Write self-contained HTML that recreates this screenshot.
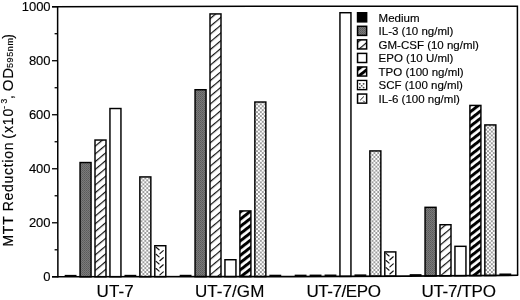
<!DOCTYPE html>
<html><head><meta charset="utf-8"><title>MTT Reduction</title>
<style>
html,body{margin:0;padding:0;background:#fff;}
body{width:520px;height:300px;overflow:hidden;}
svg{display:block;}
text{font-family:"Liberation Sans", Arial, Helvetica, sans-serif;fill:#000;stroke:#000;stroke-width:0.15px;}
</style></head><body>
<svg width="520" height="300" viewBox="0 0 520 300">
<defs>
 <pattern id="il3" width="2" height="2" patternUnits="userSpaceOnUse">
  <rect width="2" height="2" fill="#7a7a7a"/><rect width="1" height="1" fill="#5a5a5a"/><rect x="1" y="1" width="1" height="1" fill="#646464"/>
 </pattern>
 <pattern id="gm" width="5.95" height="6" patternUnits="userSpaceOnUse" patternTransform="rotate(50)">
  <rect width="5.95" height="6" fill="#fff"/><rect x="0" width="1.2" height="6" fill="#111"/>
 </pattern>
 <pattern id="tpo" width="5.7" height="6" patternUnits="userSpaceOnUse" patternTransform="rotate(52)">
  <rect width="5.7" height="6" fill="#fff"/><rect x="0" width="3.0" height="6" fill="#000"/>
 </pattern>
 <pattern id="scf" width="3.85" height="3.9" patternUnits="userSpaceOnUse">
  <rect width="3.85" height="3.9" fill="#fff"/>
  <ellipse cx="0.96" cy="0.98" rx="0.95" ry="0.75" fill="#444"/><ellipse cx="2.9" cy="2.93" rx="0.95" ry="0.75" fill="#444"/>
 </pattern>
</defs>

<rect x="64.67" y="274.88" width="11.85" height="2" fill="#000"/>
<rect x="80.05" y="162.53" width="11.00" height="114.25" fill="url(#il3)" stroke="#000" stroke-width="1.45"/>
<rect x="95.00" y="140.03" width="11.00" height="136.73" fill="url(#gm)" stroke="#000" stroke-width="1.45"/>
<rect x="109.95" y="108.52" width="11.00" height="168.22" fill="#fff" stroke="#000" stroke-width="1.45"/>
<rect x="124.47" y="274.83" width="11.85" height="2" fill="#000"/>
<rect x="139.85" y="176.92" width="11.00" height="99.80" fill="url(#scf)" stroke="#000" stroke-width="1.45"/>
<rect x="154.80" y="245.72" width="11.00" height="30.98" fill="#fff" stroke="#000" stroke-width="1.45"/>
<path d="M156.07 247.20L159.07 249.80M159.88 253.60L163.27 250.60M156.07 254.30L159.07 256.90M159.88 260.70L163.27 257.70M156.07 261.40L159.07 264.00M159.88 267.80L163.27 264.80M156.07 268.50L159.07 271.10M159.88 274.90L163.27 271.90" stroke="#111" stroke-width="1.15" fill="none" stroke-linecap="round"/>
<rect x="179.68" y="274.79" width="11.85" height="2" fill="#000"/>
<rect x="195.05" y="89.72" width="11.00" height="186.95" fill="url(#il3)" stroke="#000" stroke-width="1.45"/>
<rect x="210.00" y="13.92" width="11.00" height="262.74" fill="url(#gm)" stroke="#000" stroke-width="1.45"/>
<rect x="224.95" y="259.73" width="11.00" height="16.93" fill="#fff" stroke="#000" stroke-width="1.45"/>
<rect x="239.90" y="210.92" width="11.00" height="65.71" fill="url(#tpo)" stroke="#000" stroke-width="1.45"/>
<rect x="254.85" y="102.02" width="11.00" height="174.60" fill="url(#scf)" stroke="#000" stroke-width="1.45"/>
<rect x="269.38" y="274.71" width="11.85" height="2" fill="#000"/>
<rect x="294.68" y="274.65" width="11.85" height="2" fill="#000"/>
<rect x="309.62" y="274.59" width="11.85" height="2" fill="#000"/>
<rect x="324.57" y="274.53" width="11.85" height="2" fill="#000"/>
<rect x="339.95" y="12.72" width="11.00" height="263.64" fill="#fff" stroke="#000" stroke-width="1.45"/>
<rect x="354.48" y="274.40" width="11.85" height="2" fill="#000"/>
<rect x="369.85" y="150.92" width="11.00" height="125.31" fill="url(#scf)" stroke="#000" stroke-width="1.45"/>
<rect x="384.80" y="251.92" width="11.00" height="24.25" fill="#fff" stroke="#000" stroke-width="1.45"/>
<path d="M386.07 253.40L389.07 256.00M389.88 259.80L393.27 256.80M386.07 260.50L389.07 263.10M389.88 266.90L393.27 263.90M386.07 267.60L389.07 270.20M389.88 274.00L393.27 271.00" stroke="#111" stroke-width="1.15" fill="none" stroke-linecap="round"/>
<rect x="409.68" y="274.14" width="11.85" height="2" fill="#000"/>
<rect x="425.05" y="207.32" width="11.00" height="68.61" fill="url(#il3)" stroke="#000" stroke-width="1.45"/>
<rect x="440.00" y="224.72" width="11.00" height="51.10" fill="url(#gm)" stroke="#000" stroke-width="1.45"/>
<rect x="454.95" y="246.32" width="11.00" height="29.39" fill="#fff" stroke="#000" stroke-width="1.45"/>
<rect x="469.90" y="105.42" width="11.00" height="170.18" fill="url(#tpo)" stroke="#000" stroke-width="1.45"/>
<rect x="484.85" y="124.92" width="11.00" height="150.58" fill="url(#scf)" stroke="#000" stroke-width="1.45"/>
<rect x="499.38" y="273.49" width="11.85" height="2" fill="#000"/>
<path d="M52 6.7 L290 6.2 L517.4 6.2 L517.6 275.3" stroke="#000" stroke-width="1.5" fill="none"/>
<path d="M52 276.8 L290 276.6 L407 276.1 L518.2 275.3" stroke="#000" stroke-width="1.6" fill="none"/>
<path d="M57.6 6 L57.9 277.5" stroke="#000" stroke-width="1.5" fill="none"/>
<line x1="52" y1="276.80" x2="57.6" y2="276.80" stroke="#000" stroke-width="1.3"/>
<text x="50.6" y="280.80" font-size="13" text-anchor="end">0</text>
<line x1="52" y1="222.78" x2="57.6" y2="222.78" stroke="#000" stroke-width="1.3"/>
<text x="50.6" y="226.78" font-size="13" text-anchor="end">200</text>
<line x1="52" y1="168.76" x2="57.6" y2="168.76" stroke="#000" stroke-width="1.3"/>
<text x="50.6" y="172.76" font-size="13" text-anchor="end">400</text>
<line x1="52" y1="114.74" x2="57.6" y2="114.74" stroke="#000" stroke-width="1.3"/>
<text x="50.6" y="118.74" font-size="13" text-anchor="end">600</text>
<line x1="52" y1="60.72" x2="57.6" y2="60.72" stroke="#000" stroke-width="1.3"/>
<text x="50.6" y="64.72" font-size="13" text-anchor="end">800</text>
<line x1="52" y1="6.70" x2="57.6" y2="6.70" stroke="#000" stroke-width="1.3"/>
<text x="50.6" y="10.70" font-size="13" text-anchor="end">1000</text>
<line x1="54.6" y1="249.79" x2="57.6" y2="249.79" stroke="#000" stroke-width="1.3"/>
<line x1="54.6" y1="195.77" x2="57.6" y2="195.77" stroke="#000" stroke-width="1.3"/>
<line x1="54.6" y1="141.75" x2="57.6" y2="141.75" stroke="#000" stroke-width="1.3"/>
<line x1="54.6" y1="87.73" x2="57.6" y2="87.73" stroke="#000" stroke-width="1.3"/>
<line x1="54.6" y1="33.71" x2="57.6" y2="33.71" stroke="#000" stroke-width="1.3"/>
<text x="96.6" y="297.2" font-size="17" textLength="37.1" lengthAdjust="spacing">UT-7</text>
<text x="194.9" y="297.2" font-size="17" textLength="69.4" lengthAdjust="spacing">UT-7/GM</text>
<text x="306.4" y="297.2" font-size="17" textLength="74.5" lengthAdjust="spacing">UT-7/EPO</text>
<text x="421.4" y="297.2" font-size="17" textLength="74.5" lengthAdjust="spacing">UT-7/TPO</text>
<text transform="translate(12.8,246.50) rotate(-90)" font-size="14" textLength="104.00" lengthAdjust="spacing">MTT Reduction</text>
<text transform="translate(12.8,138.70) rotate(-90)" font-size="14" textLength="30.00" lengthAdjust="spacing">(x10</text>
<text transform="translate(6.9,108.70) rotate(-90)" font-size="8.5" textLength="10.00" lengthAdjust="spacing">-3</text>
<text transform="translate(12.8,98.90) rotate(-90)" font-size="14" textLength="3.70" lengthAdjust="spacing">,</text>
<text transform="translate(12.9,91.20) rotate(-90)" font-size="15" textLength="23.30" lengthAdjust="spacing">OD</text>
<text transform="translate(12.6,68.10) rotate(-90)" font-size="9" textLength="30.00" lengthAdjust="spacing">595nm</text>
<text transform="translate(12.8,38.70) rotate(-90)" font-size="14" textLength="5.00" lengthAdjust="spacing">)</text>
<rect x="357.55" y="12.75" width="9.10" height="9.10" fill="#000" stroke="#000" stroke-width="1.5"/>
<text x="378.6" y="21.60" font-size="11.5">Medium</text>
<rect x="357.55" y="26.30" width="9.10" height="9.10" fill="url(#il3)" stroke="#000" stroke-width="1.5"/>
<text x="378.6" y="35.15" font-size="11.5">IL-3 (10 ng/ml)</text>
<rect x="357.55" y="39.85" width="9.10" height="9.10" fill="url(#gm)" stroke="#000" stroke-width="1.5"/>
<text x="378.6" y="48.70" font-size="11.5">GM-CSF (10 ng/ml)</text>
<rect x="357.55" y="53.40" width="9.10" height="9.10" fill="#fff" stroke="#000" stroke-width="1.5"/>
<text x="378.6" y="62.25" font-size="11.5">EPO (10 U/ml)</text>
<rect x="357.55" y="66.95" width="9.10" height="9.10" fill="url(#tpo)" stroke="#000" stroke-width="1.5"/>
<text x="378.6" y="75.80" font-size="11.5">TPO (100 ng/ml)</text>
<rect x="357.55" y="80.50" width="9.10" height="9.10" fill="url(#scf)" stroke="#000" stroke-width="1.5"/>
<rect x="358.30" y="81.25" width="7.60" height="7.60" fill="#fff"/>
<ellipse cx="359.80" cy="83.85" rx="0.95" ry="0.85" fill="#444"/>
<ellipse cx="363.60" cy="83.85" rx="0.95" ry="0.85" fill="#444"/>
<ellipse cx="361.70" cy="85.75" rx="0.95" ry="0.85" fill="#444"/>
<ellipse cx="359.80" cy="87.55" rx="0.95" ry="0.85" fill="#444"/>
<ellipse cx="363.60" cy="87.55" rx="0.95" ry="0.85" fill="#444"/>
<text x="378.6" y="89.35" font-size="11.5">SCF (100 ng/ml)</text>
<rect x="357.55" y="94.05" width="9.10" height="9.10" fill="#fff" stroke="#000" stroke-width="1.5"/>
<path d="M363.9 96.50L360.2 100.20M363.2 100.70L364.6 102.10" stroke="#111" stroke-width="1" fill="none"/>
<text x="378.6" y="102.90" font-size="11.5">IL-6 (100 ng/ml)</text>
</svg>
</body></html>
